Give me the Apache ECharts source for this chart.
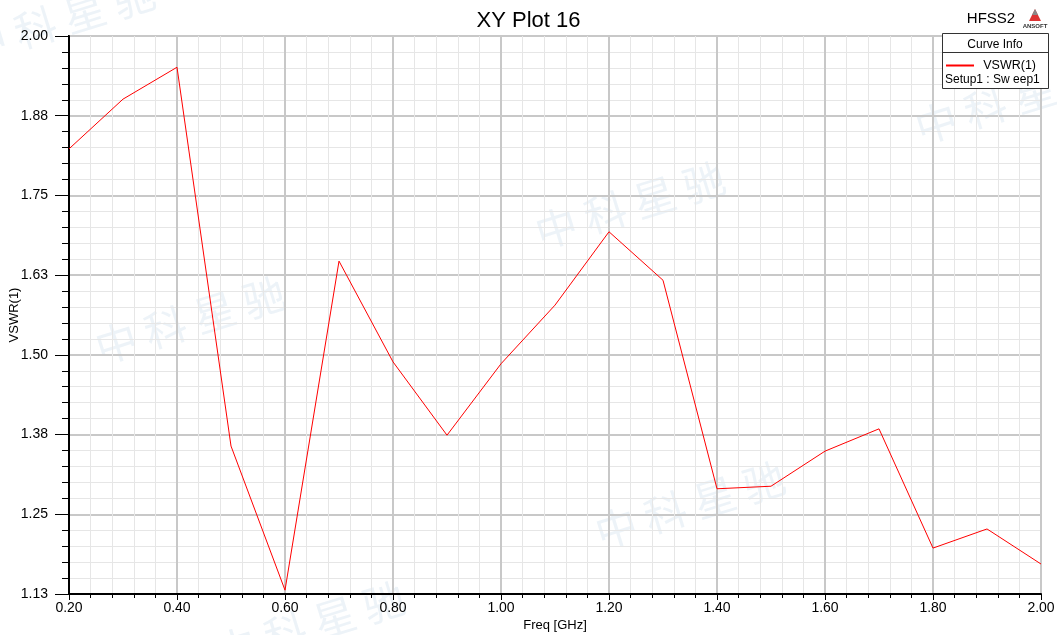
<!DOCTYPE html>
<html>
<head>
<meta charset="utf-8">
<script src="https://cdn.jsdelivr.net/npm/echarts@6/dist/echarts.min.js"></script>
<style>html,body{margin:0;padding:0;background:#fff}#c{width:1057px;height:635px}</style>
</head>
<body>
<div id="c"></div>
<script>
const freqs = [0.2,0.3,0.4,0.5,0.6,0.7,0.8,0.9,1.0,1.1,1.2,1.3,1.4,1.5,1.6,1.7,1.8,1.9,2.0];
const vswr = [1.823,1.901,1.951,1.357,1.131,1.647,1.489,1.374,1.486,1.578,1.693,1.617,1.290,1.294,1.349,1.384,1.197,1.227,1.172];
const titleText = 'XY Plot 16';
const xName = 'Freq [GHz]';
const yName = 'VSWR(1)';
const seriesName = 'VSWR(1)';
const setupName = 'Setup1 : Sw eep1';

const FONT = '"Liberation Sans", Arial, sans-serif';
const chart = echarts.init(document.getElementById('c'), null, {renderer:'canvas'});

const wm = [
  {x:190,y:320,r:0.3},{x:630,y:205,r:0.3},{x:690,y:505,r:0.3},{x:310,y:625,r:0.3},{x:1010,y:100,r:0.3},{x:60,y:20,r:0.3}
];
const watermarks = wm.map(p => ({
  type:'text', x:p.x, y:p.y, rotation:p.r, z:-1, silent:true,
  style:{text:'中 科 星 驰', fill:'rgba(175,200,225,0.22)', font:'42px "Noto Sans CJK SC"', align:'center', verticalAlign:'middle'}
}));

chart.setOption({
  animation:false,
  backgroundColor:'#fff',
  title:{text:titleText, left:'center', top:5, textStyle:{fontFamily:FONT, fontSize:22, fontWeight:'normal', color:'#000'}},
  grid:{left:69, right:16, top:36, bottom:41, outerBoundsMode:'none', containLabel:false, show:true, borderColor:'#000', borderWidth:2, backgroundColor:'transparent'},
  xAxis:{
    type:'value', min:0.2, max:2.0, interval:0.2,
    name:xName, nameLocation:'middle', nameGap:25, nameMoveOverlap:false,
    nameTextStyle:{fontFamily:FONT, fontSize:13, color:'#000'},
    axisLine:{show:true, lineStyle:{color:'#000', width:2}},
    axisTick:{show:true, length:6, lineStyle:{color:'#000', width:1}},
    minorTick:{show:true, splitNumber:5, length:4, lineStyle:{color:'#000', width:1}},
    axisLabel:{formatter:v=>v.toFixed(2), fontFamily:FONT, fontSize:14, color:'#000', margin:7},
    splitLine:{show:true, lineStyle:{color:'#c8c8c8', width:2}},
    minorSplitLine:{show:true, lineStyle:{color:'#e6e6e6', width:1}}
  },
  yAxis:{
    type:'value', min:1.125, max:2.0, interval:0.125,
    name:yName, nameLocation:'middle', nameGap:48, nameRotate:90, nameMoveOverlap:false,
    nameTextStyle:{fontFamily:FONT, fontSize:13, color:'#000'},
    axisLine:{show:true, lineStyle:{color:'#000', width:2}},
    axisTick:{show:true, length:14, lineStyle:{color:'#000', width:1}},
    minorTick:{show:true, splitNumber:5, length:7, lineStyle:{color:'#000', width:1}},
    axisLabel:{formatter:v=>v.toFixed(2), fontFamily:FONT, fontSize:14, color:'#000', margin:21},
    splitLine:{show:true, lineStyle:{color:'#c8c8c8', width:2}},
    minorSplitLine:{show:true, lineStyle:{color:'#e6e6e6', width:1}}
  },
  series:[{
    type:'line', name:seriesName, data:freqs.map((f,i)=>[f,vswr[i]]),
    showSymbol:false, symbol:'none', lineStyle:{color:'#ff0000', width:1}, z:5
  }],
  graphic:[
    ...watermarks,
    {type:'text', x:991, y:19, style:{text:'HFSS2', font:'15px '+FONT, fill:'#000', align:'center', verticalAlign:'middle'}},
    {type:'polygon', shape:{points:[[1035,9],[1029,21],[1041,21]]}, style:{fill:'#d33'}},
    {type:'polygon', shape:{points:[[1035,9],[1032,15],[1038,15]]}, style:{fill:'#888'}},
    {type:'text', x:1035, y:26, style:{text:'ANSOFT', font:'bold 6px '+FONT, fill:'#333', align:'center', verticalAlign:'middle'}},
    {type:'rect', z:50, shape:{x:942.5, y:33.5, width:106, height:55}, style:{fill:'#fff', stroke:'#333', lineWidth:1}},
    {type:'line', z:51, shape:{x1:942.5, y1:52.5, x2:1048.5, y2:52.5}, style:{stroke:'#333', lineWidth:1}},
    {type:'text', z:51, x:995, y:45, style:{text:'Curve Info', font:'12px '+FONT, fill:'#000', align:'center', verticalAlign:'middle'}},
    {type:'line', z:51, shape:{x1:946, y1:65.5, x2:974, y2:65.5}, style:{stroke:'#ff0000', lineWidth:2}},
    {type:'text', z:51, x:1036, y:66, style:{text:seriesName, font:'12.5px '+FONT, fill:'#000', align:'right', verticalAlign:'middle'}},
    {type:'text', z:51, x:945, y:80, style:{text:setupName, font:'12px '+FONT, fill:'#000', align:'left', verticalAlign:'middle'}}
  ]
});
</script>
</body>
</html>
